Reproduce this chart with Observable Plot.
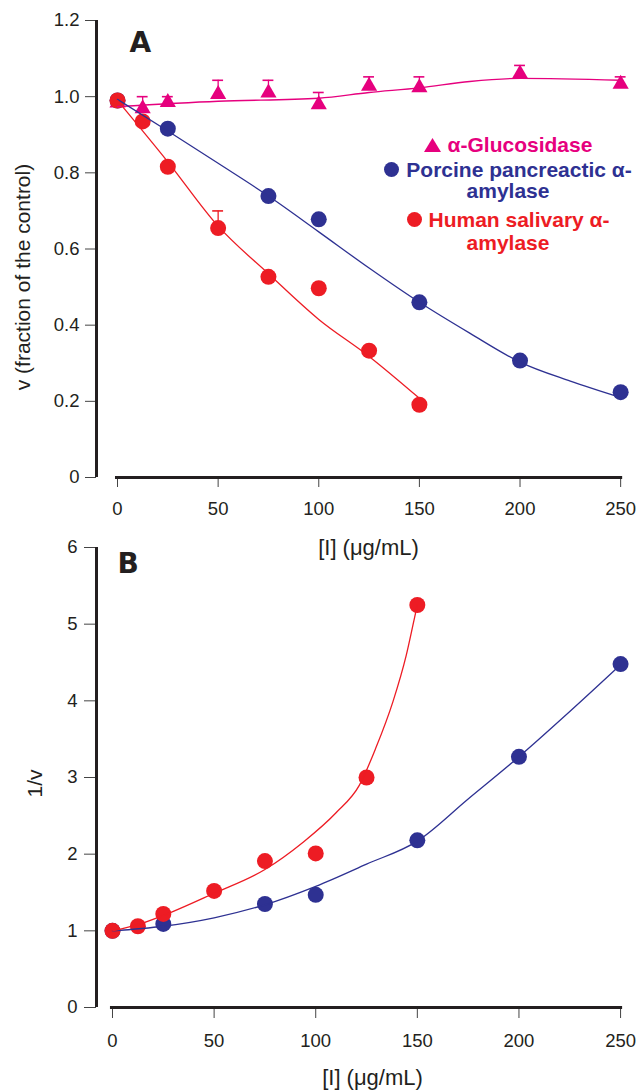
<!DOCTYPE html>
<html>
<head>
<meta charset="utf-8">
<script src="https://cdn.jsdelivr.net/npm/d3@7"></script>
<script src="https://cdn.jsdelivr.net/npm/@observablehq/plot@0.6"></script>
<style>
  html, body { margin: 0; padding: 0; background: #ffffff; }
  #wrap { position: relative; width: 641px; height: 1091px; overflow: hidden; font-family: "Liberation Sans", Arial, sans-serif; }
  #panelA, #panelB { position: absolute; left: 0; }
  #panelA { top: 0; }
  #panelB { top: 530px; }
  .leg { position: absolute; left: 380px; width: 256px; text-align: center; white-space: nowrap; font-weight: bold; font-size: 21px; line-height: 21px; }
  .leg svg { vertical-align: baseline; margin-right: 7px; }
</style>
</head>
<body>
<div id="wrap">
  <div id="panelA"></div>
  <div id="panelB"></div>
</div>
<script>
// ---------------- data ----------------
// Panel A: v (fraction of the control)
const concGluc = [0, 12.5, 25, 50, 75, 100, 125, 150, 200, 250];
const vGluc    = [0.984, 0.969, 0.985, 1.006, 1.010, 0.979, 1.028, 1.024, 1.060, 1.033];
const errGluc  = [0.010, 0.031, 0.015, 0.037, 0.033, 0.032, 0.024, 0.028, 0.022, 0.019];

const concPorcine = [0, 25, 75, 100, 150, 200, 250];
const vPorcine    = [0.99, 0.916, 0.739, 0.678, 0.460, 0.307, 0.224];

const concSalivary = [0, 12.5, 25, 50, 75, 100, 125, 150];
const vSalivary    = [0.99, 0.935, 0.816, 0.655, 0.527, 0.497, 0.333, 0.191];
const errSalivary  = [0, 0, 0, 0.045, 0, 0, 0, 0];

// fitted curves, panel A
const fitGlucX = [0, 50, 100, 125, 150, 175, 200, 250];
const fitGlucY = [0.974, 0.988, 0.996, 1.011, 1.023, 1.040, 1.048, 1.043];
const fitPorcineX = [0, 25, 50, 75, 100, 125, 150, 175, 200, 225, 250];
const fitPorcineY = [0.993, 0.910, 0.825, 0.739, 0.645, 0.550, 0.460, 0.379, 0.303, 0.253, 0.210];
const fitSalivaryX = [0, 25, 50, 75, 100, 125, 150];
const fitSalivaryY = [0.99, 0.829, 0.660, 0.535, 0.415, 0.318, 0.208];

// Panel B: 1/v
const invPorcine  = [1.00, 1.09, 1.35, 1.47, 2.18, 3.27, 4.48];
const invSalivary = [1.00, 1.06, 1.22, 1.52, 1.91, 2.01, 3.00, 5.25];
const fitInvPorcineX = [0, 25, 50, 75, 100, 125, 150, 175, 200, 225, 250];
const fitInvPorcineY = [1.00, 1.06, 1.17, 1.34, 1.58, 1.87, 2.17, 2.72, 3.27, 3.86, 4.47];
const fitInvSalivaryX = [0, 12.5, 25, 50, 75, 93.5, 110, 121.5, 129.5, 138, 144.5, 148.5, 150];
const fitInvSalivaryY = [1.00, 1.08, 1.20, 1.49, 1.80, 2.15, 2.54, 2.90, 3.38, 3.99, 4.59, 5.07, 5.25];

// ticks & labels
const xTicks  = [0, 50, 100, 150, 200, 250];
const yTicksA = [0, 0.2, 0.4, 0.6, 0.8, 1.0, 1.2];
const yTicksB = [0, 1, 2, 3, 4, 5, 6];
const panelLabels = ["A", "B"];
const xTitle = "[I] (\u03bcg/mL)";
const yTitleA = "v (fraction of the control)";
const yTitleB = "1/v";
const legendLines = ["\u03b1-Glucosidase", "Porcine pancreactic \u03b1-", "amylase", "Human salivary \u03b1-", "amylase"];

// ---------------- styles ----------------
const MAG = "#e6007e", BLUE = "#2e3192", RED = "#ed1c24", INK = "#231f20";
const FONT = "'Liberation Sans', Arial, sans-serif";

const zip = (xs, ys, es) => xs.map((x, i) => ({x, v: ys[i], err: es ? es[i] : 0}));
const gluc = zip(concGluc, vGluc, errGluc);
const porc = zip(concPorcine, vPorcine);
const saliv = zip(concSalivary, vSalivary, errSalivary);
const fitG = zip(fitGlucX, fitGlucY);
const fitP = zip(fitPorcineX, fitPorcineY);
const fitS = zip(fitSalivaryX, fitSalivaryY);
const porcB = zip(concPorcine, invPorcine);
const salivB = zip(concSalivary, invSalivary);
const fitPB = zip(fitInvPorcineX, fitInvPorcineY);
const fitSB = zip(fitInvSalivaryX, fitInvSalivaryY);

const capHalf = 2.7;
const CURVE = "monotone-x";

// ---------------- panel A ----------------
const xDomA = [-10.44, 253.9];
const yDomA = [0, 1.2];
const plotA = Plot.plot({
  width: 641, height: 560,
  marginTop: 20, marginBottom: 83, marginLeft: 96, marginRight: 13,
  style: {background: "transparent", fontFamily: FONT, overflow: "visible"},
  x: {domain: xDomA},
  y: {domain: yDomA},
  marks: [
    Plot.axisY({ticks: yTicksA, tickFormat: d => d === 0 ? "0" : d.toFixed(1), tickSize: 11, tickPadding: 6,
      fontSize: 18.5, stroke: "#444", fill: INK, label: null}),
    Plot.axisX({ticks: xTicks, tickFormat: d => String(d), tickSize: 10, tickPadding: 14,
      fontSize: 18.5, stroke: "#444", fill: INK, label: null}),
    Plot.ruleX([xDomA[0]], {y1: yDomA[0], y2: yDomA[1], stroke: INK, strokeWidth: 3}),
    Plot.ruleY([0], {x1: -1, x2: 251, stroke: INK, strokeWidth: 3}),
    // error bars (upper only)
    Plot.ruleX(gluc, {x: "x", y1: "v", y2: d => d.v + d.err, stroke: MAG, strokeWidth: 1.3}),
    Plot.ruleY(gluc, {y: d => d.v + d.err, x1: d => d.x - capHalf, x2: d => d.x + capHalf, stroke: MAG, strokeWidth: 1.6}),
    Plot.ruleX(saliv.filter(d => d.err > 0), {x: "x", y1: "v", y2: d => d.v + d.err, stroke: RED, strokeWidth: 1.3}),
    Plot.ruleY(saliv.filter(d => d.err > 0), {y: d => d.v + d.err, x1: d => d.x - capHalf, x2: d => d.x + capHalf, stroke: RED, strokeWidth: 1.6}),
    // points
    Plot.dot(gluc, {x: "x", y: "v", symbol: "triangle", r: 6, fill: MAG, stroke: "none"}),
    Plot.dot(porc, {x: "x", y: "v", r: 8, fill: BLUE, stroke: "none"}),
    Plot.dot(saliv, {x: "x", y: "v", r: 8, fill: RED, stroke: "none"}),
    // fitted curves
    Plot.line(fitG, {x: "x", y: "v", curve: CURVE, stroke: MAG, strokeWidth: 1.4}),
    Plot.line(fitP, {x: "x", y: "v", curve: CURVE, stroke: BLUE, strokeWidth: 1.3}),
    Plot.line(fitS, {x: "x", y: "v", curve: CURVE, stroke: RED, strokeWidth: 1.3}),
    // titles
    Plot.text([yTitleA], {text: d => d, x: () => xDomA[0], y: () => (yDomA[0] + yDomA[1]) / 2,
      textAnchor: "middle", rotate: -90, dx: -73, dy: 28, fontSize: 21, fill: INK}),
    Plot.text([xTitle], {text: d => d, frameAnchor: "bottom", textAnchor: "middle", lineAnchor: "middle",
      dx: 6, dy: 70, fontSize: 22, fill: INK}),
    Plot.text([panelLabels[0]], {text: d => d, frameAnchor: "top-left", dx: 33, dy: 12, lineAnchor: "top", textAnchor: "start",
      fontSize: 28, fontWeight: "bold", fontFamily: "'DejaVu Sans', Verdana, sans-serif", fill: INK})
  ]
});
document.getElementById("panelA").appendChild(plotA);

// ---------------- panel B ----------------
const xDomB = [-7.87, 253.9];
const yDomB = [0, 6];
const plotB = Plot.plot({
  width: 641, height: 561,
  marginTop: 17, marginBottom: 84, marginLeft: 96, marginRight: 13,
  style: {background: "transparent", fontFamily: FONT, overflow: "visible"},
  x: {domain: xDomB},
  y: {domain: yDomB},
  marks: [
    Plot.axisY({ticks: yTicksB, tickFormat: d => String(d), tickSize: 12, tickPadding: 7,
      fontSize: 18.5, stroke: "#444", fill: INK, label: null}),
    Plot.axisX({ticks: xTicks, tickFormat: d => String(d), tickSize: 11, tickPadding: 15,
      fontSize: 18.5, stroke: "#444", fill: INK, label: null}),
    Plot.ruleX([xDomB[0]], {y1: yDomB[0], y2: yDomB[1], stroke: INK, strokeWidth: 3}),
    Plot.ruleY([0], {x1: -1, x2: 251, stroke: INK, strokeWidth: 3}),
    Plot.dot(porcB, {x: "x", y: "v", r: 8, fill: BLUE, stroke: "none"}),
    Plot.dot(salivB, {x: "x", y: "v", r: 8, fill: RED, stroke: "none"}),
    Plot.line(fitPB, {x: "x", y: "v", curve: CURVE, stroke: BLUE, strokeWidth: 1.3}),
    Plot.line(fitSB, {x: "x", y: "v", curve: CURVE, stroke: RED, strokeWidth: 1.3}),
    Plot.text([yTitleB], {text: d => d, x: () => xDomB[0], y: () => (yDomB[0] + yDomB[1]) / 2,
      textAnchor: "middle", rotate: -90, dx: -61, dy: 6, fontSize: 21, fill: INK}),
    Plot.text([xTitle], {text: d => d, frameAnchor: "bottom", textAnchor: "middle", lineAnchor: "middle",
      dx: 10, dy: 70, fontSize: 22, fill: INK}),
    Plot.text([panelLabels[1]], {text: d => d, frameAnchor: "top-left", dx: 21, dy: 6, lineAnchor: "top", textAnchor: "start",
      fontSize: 28, fontWeight: "bold", fontFamily: "'DejaVu Sans', Verdana, sans-serif", fill: INK})
  ]
});
document.getElementById("panelB").appendChild(plotB);

// ---------------- legend (panel A) ----------------
const legendSpec = [
  {sym: "triangle", color: MAG, top: 134},
  {sym: "circle", color: BLUE, top: 159},
  {sym: null, color: BLUE, top: 180},
  {sym: "circle", color: RED, top: 209},
  {sym: null, color: RED, top: 232}
];
const wrap = document.getElementById("wrap");
legendSpec.forEach((s, i) => {
  const row = document.createElement("div");
  row.className = "leg";
  row.style.top = s.top + "px";
  row.style.color = s.color;
  if (!s.sym) row.style.paddingRight = "9px";
  let svg = "";
  if (s.sym === "triangle") {
    svg = `<svg width="17" height="14" viewBox="0 0 17 14"><polygon points="8.5,0 17,14 0,14" fill="${s.color}"/></svg>`;
  } else if (s.sym === "circle") {
    svg = `<svg width="15" height="15" viewBox="0 0 15 15"><circle cx="7.5" cy="7.5" r="7.5" fill="${s.color}"/></svg>`;
  }
  row.innerHTML = svg + `<span>${legendLines[i]}</span>`;
  wrap.appendChild(row);
});
</script>
</body>
</html>
